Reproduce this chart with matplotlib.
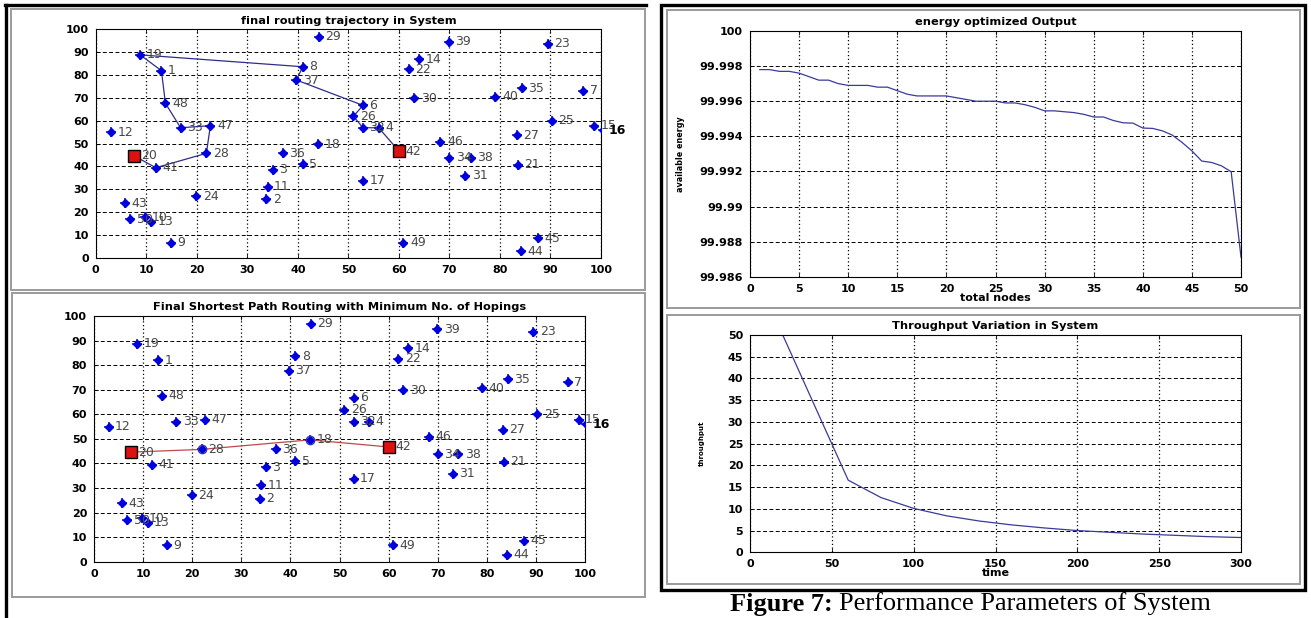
import matplotlib
matplotlib.use('Agg')
import matplotlib.pyplot as plt
from matplotlib.patches import Rectangle
from matplotlib.lines import Line2D

W, H = 1311, 618

# ---------------- data ----------------
node_ids = ['1', '2', '3', '4', '5', '6', '7', '8', '9', '10', '11', '12', '13', '14', '15',
            '16', '17', '18', '19', '21', '22', '23', '24', '25', '26', '27', '28', '29', '30',
            '31', '32', '33', '34', '35', '36', '37', '38', '39', '40', '41', '43', '44', '45',
            '46', '47', '48', '49', '50']
node_x = [13, 33.8, 35, 56, 41, 52.9, 96.5, 41, 14.9, 9.8, 34, 3, 10.9, 64, 98.7,
          100.3, 52.9, 44, 8.8, 83.5, 62, 89.5, 19.9, 90.3, 51, 83.3, 21.9, 44.2, 63,
          73.1, 52.9, 16.8, 70, 84.3, 37, 39.7, 74.2, 69.9, 79.1, 11.9, 5.8, 84.2, 87.5,
          68.2, 22.7, 13.8, 60.9, 6.8]
node_y = [81.9, 25.7, 38.4, 56.9, 40.9, 66.7, 73, 83.6, 6.6, 17.7, 31.1, 54.9, 15.8, 86.9, 57.8,
          55.9, 33.7, 49.6, 88.8, 40.7, 82.6, 93.6, 27, 60, 61.9, 53.7, 45.7, 96.8, 69.8,
          35.8, 56.9, 56.9, 43.8, 74.2, 45.7, 77.8, 43.8, 94.6, 70.5, 39.4, 23.8, 2.9, 8.5,
          50.8, 57.8, 67.6, 6.6, 16.8]
src_id, src_x, src_y = '20', 7.6, 44.6
dst_id, dst_x, dst_y = '42', 60, 46.7

trajectory_route = ['20', '41', '28', '47', '33', '48', '1', '19', '8', '37', '6', '26', '32', '4', '42']
shortest_route = ['20', '28', '18', '42']

energy_nodes = list(range(1, 51))
energy_vals = [99.9978, 99.9978, 99.9977, 99.9977, 99.9976, 99.9974, 99.9972, 99.9972, 99.9970, 99.9969,
               99.9969, 99.9969, 99.9968, 99.9968, 99.9966, 99.9964, 99.9963, 99.9963, 99.9963, 99.9963,
               99.9962, 99.9961, 99.9960, 99.9960, 99.9960, 99.9959, 99.9959, 99.9958, 99.99565, 99.99545,
               99.99545, 99.9954, 99.99535, 99.99525, 99.9951, 99.9951, 99.9949, 99.99477, 99.99475, 99.99447,
               99.99445, 99.99431, 99.99407, 99.99365, 99.99317, 99.99259, 99.99251, 99.99232, 99.99198, 99.98712]

time_vals = [20, 60, 80, 100, 120, 140, 160, 180, 200, 220, 240, 260, 280, 300]
throughput_vals = [50, 16.6, 12.6, 10.1, 8.4, 7.2, 6.3, 5.6, 5.0, 4.6, 4.2, 3.9, 3.6, 3.4]

energy_yticks = [99.986, 99.988, 99.99, 99.992, 99.994, 99.996, 99.998, 100]
energy_yticklabels = ['99.986', '99.988', '99.99', '99.992', '99.994', '99.996', '99.998', '100']

# ---------------- figure ----------------
fig = plt.figure(figsize=(W / 100, H / 100), dpi=100)
fig.patch.set_facecolor('white')


def axes_px(x0, y0, x1, y1):
    return fig.add_axes([x0 / W, 1 - y1 / H, (x1 - x0) / W, (y1 - y0) / H])


def frame_px(x0, y0, x1, y1, color, lw):
    fig.add_artist(Rectangle((x0 / W, 1 - y1 / H), (x1 - x0) / W, (y1 - y0) / H,
                             transform=fig.transFigure, fill=False, edgecolor=color,
                             linewidth=lw, zorder=0))


def line_px(xs, ys, color, lw):
    fig.add_artist(Line2D([x / W for x in xs], [1 - y / H for y in ys],
                          transform=fig.transFigure, color=color, linewidth=lw))


# outer frames
line_px([5, 646], [5, 5], 'black', 2.4)
line_px([6, 6], [5, 618], 'black', 2.4)
frame_px(11, 9, 645, 290, '#9a9a9a', 1.4)
frame_px(12, 293, 645, 597, '#9a9a9a', 1.4)
frame_px(661, 5, 1305, 590, 'black', 2.4)
frame_px(667, 10, 1300, 308, '#9a9a9a', 1.4)
frame_px(667, 315, 1300, 584, '#9a9a9a', 1.4)

TITLE_FS = 8.2


def style_axes(ax):
    for s in ax.spines.values():
        s.set_color('black')
        s.set_linewidth(0.8)
    ax.tick_params(direction='in', length=3, width=0.6, top=True, right=True, pad=5)
    for lab in ax.get_xticklabels() + ax.get_yticklabels():
        lab.set_fontfamily('DejaVu Sans')
        lab.set_fontweight('bold')
        lab.set_fontsize(8)
    ax.set_axisbelow(True)
    ax.xaxis.grid(True, color='black', linewidth=0.9, linestyle=(0, (1, 2)))
    ax.yaxis.grid(True, color='black', linewidth=0.7, linestyle=(0, (4, 2.5)))


pos = {nid: (x, y) for nid, x, y in zip(node_ids, node_x, node_y)}
pos[src_id] = (src_x, src_y)
pos[dst_id] = (dst_x, dst_y)

LABEL_FS = 9
LABEL_COLOR = '#484848'


def draw_nodes(ax):
    ax.plot(node_x, node_y, linestyle='none', marker='+', ms=7, mew=1.1, color='#0000dd', zorder=4)
    ax.plot(node_x, node_y, linestyle='none', marker='D', ms=3.6, color='#0000dd', zorder=4)
    for nid, x, y in zip(node_ids, node_x, node_y):
        if nid == '16':
            ax.text(x + 1.2, y, nid, fontsize=LABEL_FS, fontweight='bold', color='black',
                    va='center', ha='left', clip_on=False, zorder=5)
        else:
            ax.text(x + 1.3, y, nid, fontsize=LABEL_FS, color=LABEL_COLOR,
                    va='center', ha='left', clip_on=False, zorder=5)
    ax.plot([src_x, dst_x], [src_y, dst_y], linestyle='none', marker='s', ms=8,
            mfc='#dd1111', mec='black', mew=1.0, zorder=6)
    ax.text(src_x + 1.3, src_y, src_id, fontsize=LABEL_FS, color=LABEL_COLOR, va='center', ha='left', zorder=7)
    ax.text(dst_x + 1.3, dst_y, dst_id, fontsize=LABEL_FS, color=LABEL_COLOR, va='center', ha='left', zorder=7)


def setup_map(ax, title):
    ax.set_xlim(0, 100)
    ax.set_ylim(0, 100)
    ax.set_xticks(range(0, 101, 10))
    ax.set_yticks(range(0, 101, 10))
    style_axes(ax)
    ax.set_title(title, fontsize=TITLE_FS, fontweight='bold', pad=4)


# --- top-left: routing trajectory
ax1 = axes_px(95.7, 29.3, 601, 257.7)
setup_map(ax1, 'final routing trajectory in System')
ax1.plot([pos[n][0] for n in trajectory_route], [pos[n][1] for n in trajectory_route],
         color='#2e2e8a', linewidth=0.9, zorder=3)
draw_nodes(ax1)

# --- bottom-left: shortest path
ax2 = axes_px(94, 316, 585, 561.7)
setup_map(ax2, 'Final Shortest Path Routing with Minimum No. of Hopings')
ax2.plot([pos[n][0] for n in shortest_route], [pos[n][1] for n in shortest_route],
         color='#c04848', linewidth=0.9, zorder=3)
draw_nodes(ax2)
ax2.plot([pos[n][0] for n in shortest_route[1:-1]], [pos[n][1] for n in shortest_route[1:-1]],
         linestyle='none', marker='o', ms=6, mfc='none', mec='#3030c0', mew=1.0, zorder=5)

# --- top-right: energy
ax3 = axes_px(750, 31, 1241, 276.7)
ax3.plot(energy_nodes, energy_vals, color='#3a3a9a', linewidth=0.9)
ax3.set_xlim(0, 50)
ax3.set_ylim(99.986, 100)
ax3.set_xticks(range(0, 51, 5))
ax3.set_yticks(energy_yticks)
ax3.set_yticklabels(energy_yticklabels)
style_axes(ax3)
ax3.set_title('energy optimized Output', fontsize=TITLE_FS, fontweight='bold', pad=4)
ax3.set_xlabel('total nodes', fontsize=8, fontweight='bold')
ax3.set_ylabel('available energy', fontsize=5.8, fontweight='bold')
ax3.xaxis.set_label_coords(0.5, -0.068)
ax3.yaxis.set_label_coords(-0.132, 0.5)

# --- bottom-right: throughput
ax4 = axes_px(750, 335, 1241, 552.3)
ax4.plot(time_vals, throughput_vals, color='#3a3a9a', linewidth=0.9)
ax4.set_xlim(0, 300)
ax4.set_ylim(0, 50)
ax4.set_xticks(range(0, 301, 50))
ax4.set_yticks(range(0, 51, 5))
style_axes(ax4)
ax4.set_title('Throughput Variation in System', fontsize=TITLE_FS, fontweight='bold', pad=4)
ax4.set_xlabel('time', fontsize=8, fontweight='bold')
ax4.set_ylabel('throughput', fontsize=5, fontweight='bold')
ax4.xaxis.set_label_coords(0.5, -0.074)
ax4.yaxis.set_label_coords(-0.092, 0.5)

# --- caption
cap_y = 1 - 604 / H
t1 = fig.text(730 / W, cap_y, 'Figure 7:', fontsize=19, fontweight='bold',
              family='Liberation Serif', ha='left', va='center')
fig.canvas.draw()
bb = t1.get_window_extent(renderer=fig.canvas.get_renderer())
fig.text((bb.x1 + 6) / W, cap_y, 'Performance Parameters of System', fontsize=19,
         family='Liberation Serif', ha='left', va='center')

fig.savefig('out.png', dpi=100, facecolor='white')
